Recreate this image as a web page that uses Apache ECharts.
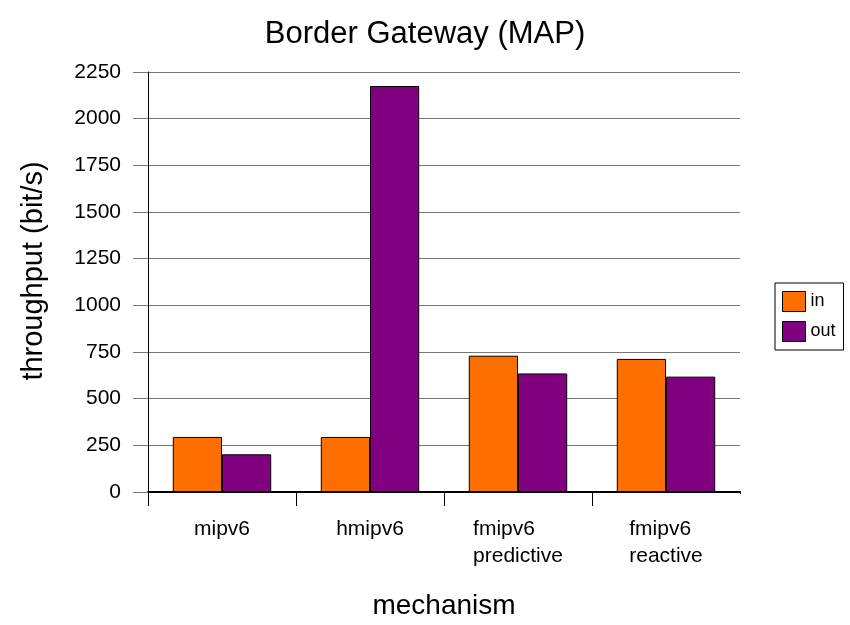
<!DOCTYPE html>
<html>
<head>
<meta charset="utf-8">
<title>Border Gateway (MAP)</title>
<script src="https://cdn.jsdelivr.net/npm/echarts@6/dist/echarts.min.js"></script>
<style>
  html, body { margin: 0; padding: 0; background: #ffffff; }
  #chart { width: 850px; height: 625px; }
</style>
</head>
<body>
<div id="chart"></div>
<script>
// Throughput measured at the border gateway for each mobility mechanism
const categories = ['mipv6', 'hmipv6', 'fmipv6\npredictive', 'fmipv6\nreactive'];
const inValues = [295, 295, 730, 713];
const outValues = [202, 2175, 635, 618];
const yTicks = { min: 0, max: 2250, interval: 250 };

const font = 'Liberation Sans, Arial, Helvetica, sans-serif';
const chart = echarts.init(document.getElementById('chart'), null, { renderer: 'canvas' });

chart.setOption({
  backgroundColor: '#ffffff',
  animation: false,
  title: {
    text: 'Border Gateway (MAP)',
    left: 'center',
    top: 14,
    textStyle: { fontFamily: font, fontSize: 31, fontWeight: 'normal', color: '#000' }
  },
  legend: {
    orient: 'vertical',
    left: 775,
    top: 283,
    padding: [8, 8, 8, 7],
    itemWidth: 23,
    itemHeight: 20,
    itemGap: 9,
    icon: 'rect',
    borderColor: '#000',
    borderWidth: 1,
    itemStyle: { borderColor: '#000', borderWidth: 1 },
    textStyle: { fontFamily: font, fontSize: 18, color: '#000' },
    data: ['in', 'out']
  },
  grid: { left: 148, right: 110, top: 72, bottom: 130, containLabel: false },
  xAxis: {
    type: 'category',
    data: categories,
    name: 'mechanism',
    nameLocation: 'middle',
    nameGap: 100,
    nameTextStyle: { fontFamily: font, fontSize: 28, color: '#000' },
    axisLine: { show: true, lineStyle: { color: '#000', width: 2 } },
    axisTick: { show: true, interval: 0, inside: false, length: 14, lineStyle: { color: '#000', width: 1 } },
    axisLabel: {
      interval: 0,
      margin: 24,
      color: '#000',
      fontFamily: font,
      fontSize: 21,
      lineHeight: 27,
      formatter: function (v) {
        return v.split('\n').map(function (s) { return '{l|' + s + '}'; }).join('\n');
      },
      rich: { l: { align: 'left', fontFamily: font, fontSize: 21, lineHeight: 27, color: '#000' } }
    }
  },
  yAxis: {
    type: 'value',
    min: yTicks.min,
    max: yTicks.max,
    interval: yTicks.interval,
    name: 'throughput (bit/s)',
    nameLocation: 'middle',
    nameGap: 100,
    nameRotate: 90,
    nameTextStyle: { fontFamily: font, fontSize: 29, color: '#000', padding: [0, 0, 0, 22] },
    axisLine: { show: true, lineStyle: { color: '#000', width: 1 } },
    axisTick: { show: true, length: 15, lineStyle: { color: '#777', width: 1 } },
    axisLabel: {
      margin: 27, color: '#000', fontFamily: font, fontSize: 21,
      formatter: function (v) { return String(v); }
    },
    splitLine: { show: true, lineStyle: { color: '#777', width: 1 } }
  },
  series: [
    {
      name: 'in',
      type: 'bar',
      data: inValues,
      barGap: '0%',
      barCategoryGap: '33.5%',
      itemStyle: { color: '#ff6f00', borderColor: '#000', borderWidth: 1 }
    },
    {
      name: 'out',
      type: 'bar',
      data: outValues,
      barGap: '0%',
      barCategoryGap: '33.5%',
      itemStyle: { color: '#800080', borderColor: '#000', borderWidth: 1 }
    }
  ]
});

// The category axis only ticks the left edge of each group: hide the closing tick at the right end.
const gridRect = chart.getModel().getComponent('grid', 0).coordinateSystem.getRect();
const axisEndX = gridRect.x + gridRect.width;
const axisY = gridRect.y + gridRect.height;
chart.setOption({
  graphic: [{
    type: 'rect',
    x: axisEndX - 3,
    y: axisY + 2,
    shape: { x: 0, y: 0, width: 7, height: 16 },
    style: { fill: '#ffffff' },
    z: 1000,
    zlevel: 0,
    silent: true
  }]
});
</script>
</body>
</html>
